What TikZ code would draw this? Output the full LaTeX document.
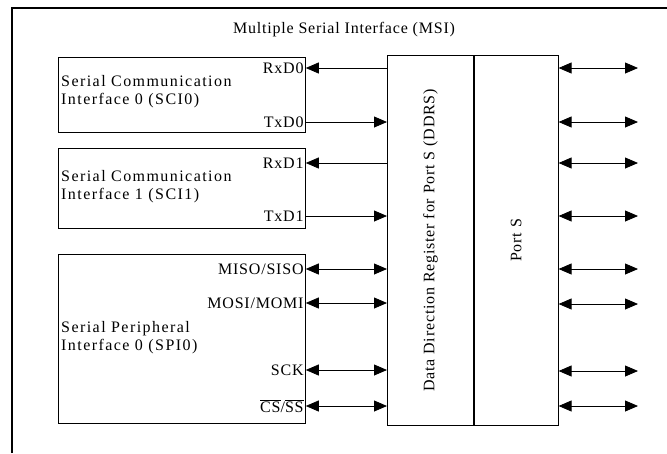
\documentclass[tikz,border=0pt]{standalone}
\usepackage{fontspec}
\setmainfont{Liberation Serif}[LetterSpace=5]
\usetikzlibrary{arrows.meta,positioning}
\tikzset{
  unitbox/.style={draw, line width=0.8pt, anchor=north west, inner sep=0pt},
  pinlabel/.style={anchor=east, inner sep=2pt, font=\fontsize{16}{18}\selectfont},
  boxtext/.style={anchor=west, align=left, inner sep=0pt, font=\fontsize{16}{18}\selectfont\addfontfeature{LetterSpace=9}},
  sigarrow/.style={-{Triangle[length=13pt,width=11pt]}, line width=0.8pt},
  busarrow/.style={{Triangle[length=13pt,width=11pt]}-{Triangle[length=13pt,width=11pt]}, line width=0.8pt}
}

\begin{document}
\begin{tikzpicture}[x=1pt,y=-1pt]
  \useasboundingbox (0,0) rectangle (667,453);
  \draw[line width=1.3pt] (12,453) -- (12,8) -- (667,8);
  \node[font=\fontsize{16}{18}\selectfont] (title) at (344,30) {Multiple Serial Interface (MSI)};

  % interface blocks
  \node[unitbox, minimum width=247pt, minimum height=75pt] (sci0) at (58,57) {};
  \node[unitbox, minimum width=247pt, minimum height=80pt] (sci1) at (58,148) {};
  \node[unitbox, minimum width=247pt, minimum height=169pt] (spi0) at (58,254) {};
  \node[boxtext] (sci0txt) at (61,92) {Serial Communication\\Interface 0 (SCI0)};
  \node[boxtext] (sci1txt) at (61,187) {Serial Communication\\Interface 1 (SCI1)};
  \node[boxtext] (spi0txt) at (61,338) {Serial Peripheral\\Interface 0 (SPI0)};

  % port S with its direction register
  \node[unitbox, minimum width=86pt, minimum height=370pt] (ddrs) at (387,55) {};
  \node[unitbox, minimum width=84pt, minimum height=370pt] (ports) at (ddrs.north east) {};
  \node[rotate=90, font=\fontsize{16}{18}\selectfont] (ddrstxt) at (ddrs.center) {Data Direction Register for Port S (DDRS)};
  \node[rotate=90, font=\fontsize{16}{18}\selectfont] (portstxt) at (ports.center) {Port S};

  % pin names
  \node[pinlabel] (rxd0) at (sci0.east |- 0,68) {RxD0};
  \node[pinlabel] (txd0) at (sci0.east |- 0,122) {TxD0};
  \node[pinlabel] (rxd1) at (sci1.east |- 0,163) {RxD1};
  \node[pinlabel] (txd1) at (sci1.east |- 0,216) {TxD1};
  \node[pinlabel] (miso) at (spi0.east |- 0,269) {MISO/SISO};
  \node[pinlabel] (mosi) at (spi0.east |- 0,303) {MOSI/MOMI};
  \node[pinlabel] (sck) at (spi0.east |- 0,370) {SCK};
  \node[pinlabel] (ss) at (spi0.east |- 0,406) {$\overline{\mbox{CS}}$/$\overline{\mbox{SS}}$};

  \draw[sigarrow] (ddrs.west |- rxd0) -- (rxd0.east);
  \draw[sigarrow] (txd0.east) -- (ddrs.west |- txd0);
  \draw[sigarrow] (ddrs.west |- rxd1) -- (rxd1.east);
  \draw[sigarrow] (txd1.east) -- (ddrs.west |- txd1);
  \foreach \pin in {miso,mosi,sck,ss}
    \draw[busarrow] (\pin.east) -- (ddrs.west |- \pin);

  % external pins
  \foreach \y [count=\i] in {68,122,163,216,269,304,371,406} {
    \coordinate (pin\i) at (638,\y);
    \draw[busarrow] (ports.east |- pin\i) -- (pin\i);
  }
\end{tikzpicture}
\end{document}
